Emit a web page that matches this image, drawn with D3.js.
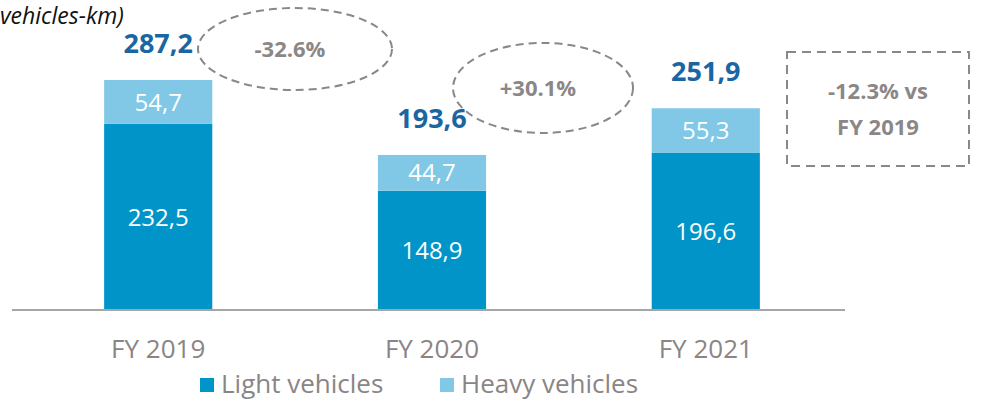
<!DOCTYPE html>
<html>
<head>
<meta charset="utf-8">
<script src="https://cdn.jsdelivr.net/npm/d3@7"></script>
<style>
  body { margin: 0; background: #fff; }
  svg { display: block; font-family: "Open Sans", sans-serif; }
</style>
</head>
<body>
<div class="chart"></div>
<script>
var years = ['FY 2019', 'FY 2020', 'FY 2021'];
var light = [232.5, 148.9, 196.6];
var heavy = [54.7, 44.7, 55.3];
var totals = [287.2, 193.6, 251.9];
var seriesNames = ['Light vehicles', 'Heavy vehicles'];
var colors = ['#0094c8', '#80c8e6'];

var width = 992, height = 402;
var fmt = function(v) { return v.toFixed(1).replace('.', ','); };

var svg = d3.select('.chart')
  .append('svg')
    .attr('width', width)
    .attr('height', height);

var x = d3.scaleBand()
    .domain(years)
    .range([22, 842])
    .paddingInner(0.605)
    .paddingOuter(0.3);

var y = d3.scaleLinear()
    .domain([0, 287.2])
    .range([310, 80]);

var rows = years.map(function(d, i) {
  return { year: d, light: light[i], heavy: heavy[i] };
});
var stacked = d3.stack().keys(['light', 'heavy'])(rows);

// bars
svg.selectAll('.layer')
  .data(stacked)
  .enter()
  .append('g')
    .attr('fill', (d, i) => colors[i])
  .selectAll('rect')
  .data(d => d)
  .enter()
  .append('rect')
    .attr('x', d => x(d.data.year))
    .attr('y', d => y(d[1]))
    .attr('width', x.bandwidth())
    .attr('height', d => y(d[0]) - y(d[1]));

// segment labels
stacked.forEach(function(layer) {
  svg.append('g').selectAll('text')
    .data(layer)
    .enter()
    .append('text')
      .attr('x', d => x(d.data.year) + x.bandwidth() / 2)
      .attr('y', d => (y(d[0]) + y(d[1])) / 2)
      .attr('dy', '0.36em')
      .attr('text-anchor', 'middle')
      .attr('fill', '#fff')
      .style('font-size', '24px')
      .text(d => fmt(d[1] - d[0]));
});

// totals
svg.append('g').selectAll('text')
  .data(totals)
  .enter()
  .append('text')
    .attr('x', (d, i) => x(years[i]) + x.bandwidth() / 2)
    .attr('y', d => y(d) - 27)
    .attr('text-anchor', 'middle')
    .attr('fill', '#1a66a3')
    .style('font-size', '27px')
    .style('font-weight', 'bold')
    .text(fmt);

// x axis
var xAxis = d3.axisBottom(x).tickSize(0).tickPadding(30);
var gx = svg.append('g')
    .attr('transform', 'translate(0,310)')
    .call(xAxis);
gx.select('.domain').attr('stroke', '#a6a6a6').attr('stroke-width', 2)
  .attr('d', 'M12,0H845');
gx.selectAll('text')
    .attr('fill', '#8a8585')
    .style('font-size', '26px')
    .style('font-family', '"Open Sans", sans-serif');

// title (only its tail is visible in the reference)
svg.append('text')
    .attr('x', 0)
    .attr('y', 24)
    .attr('fill', '#111')
    .style('font-size', '23px')
    .style('font-style', 'italic')
    .text('vehicles-km)');

// annotations
var grey = '#8c8787';
var bubbles = [
  { cx: 295, cy: 49, rx: 97, ry: 41, label: '-32.6%' },
  { cx: 543, cy: 88, rx: 90, ry: 45, label: '+30.1%' }
];
bubbles.forEach(function(b) {
  svg.append('ellipse')
      .attr('cx', b.cx).attr('cy', b.cy)
      .attr('rx', b.rx).attr('ry', b.ry)
      .attr('fill', 'none')
      .attr('stroke', grey)
      .attr('stroke-width', 2)
      .attr('stroke-dasharray', '8,5');
  svg.append('text')
      .attr('x', b.cx - 5).attr('y', b.cy)
      .attr('dy', '0.36em')
      .attr('text-anchor', 'middle')
      .attr('fill', grey)
      .style('font-size', '22px')
      .style('font-weight', 'bold')
      .text(b.label);
});

svg.append('rect')
    .attr('x', 787).attr('y', 52)
    .attr('width', 182).attr('height', 114)
    .attr('fill', 'none')
    .attr('stroke', grey)
    .attr('stroke-width', 2)
    .attr('stroke-dasharray', '9,6');
svg.append('text')
    .attr('x', 878).attr('y', 91)
    .attr('dy', '0.36em')
    .attr('text-anchor', 'middle')
    .attr('fill', grey)
    .style('font-size', '22px')
    .style('font-weight', 'bold')
    .text('-12.3% vs');
svg.append('text')
    .attr('x', 878).attr('y', 127)
    .attr('dy', '0.36em')
    .attr('text-anchor', 'middle')
    .attr('fill', grey)
    .style('font-size', '22px')
    .style('font-weight', 'bold')
    .text('FY 2019');

// legend
var legendX = [200, 440];
var legend = svg.append('g').selectAll('g')
  .data(seriesNames)
  .enter()
  .append('g')
    .attr('transform', (d, i) => 'translate(' + legendX[i] + ',378)');
legend.append('rect')
    .attr('width', 14).attr('height', 14)
    .attr('fill', (d, i) => colors[i]);
legend.append('text')
    .attr('x', 21).attr('y', 7)
    .attr('dy', '0.32em')
    .attr('fill', '#8a8585')
    .style('font-size', '26px')
    .text(d => d);
</script>
</body>
</html>
